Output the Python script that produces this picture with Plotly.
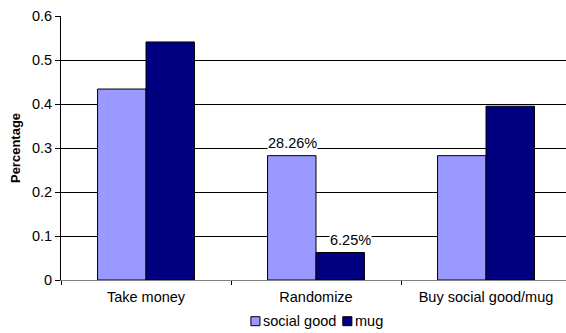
import plotly.graph_objects as go

categories = ["Take money", "Randomize", "Buy social good/mug"]
series_names = ["social good", "mug"]
social_good = [0.434, 0.2826, 0.2826]
mug = [0.541, 0.0625, 0.395]
colors = ["#9999FF", "#000080"]
label_idx = 1
y_ticks = [0, 0.1, 0.2, 0.3, 0.4, 0.5, 0.6]
y_tick_text = ["0", "0.1", "0.2", "0.3", "0.4", "0.5", "0.6"]

font = "Liberation Sans, Arial, sans-serif"
fs = 14.5

fig = go.Figure()
for name, vals, col in zip(series_names, [social_good, mug], colors):
    fig.add_trace(go.Bar(name=name, x=categories, y=vals, showlegend=False,
                         marker=dict(color=col, line=dict(color="black", width=1))))

fig.add_annotation(x=categories[label_idx], y=social_good[label_idx], text=f"{social_good[label_idx]*100:.2f}%",
                   xshift=-24, yshift=13, showarrow=False, bgcolor="white",
                   font=dict(size=fs, color="black", family=font), borderpad=0)
fig.add_annotation(x=categories[label_idx], y=mug[label_idx], text=f"{mug[label_idx]*100:.2f}%",
                   xshift=34, yshift=13, showarrow=False, bgcolor="white",
                   font=dict(size=fs, color="black", family=font), borderpad=0)

# custom compact legend (paper coords relative to plot area)
leg_items = [(0.376, 0.394, 0.399), (0.558, 0.576, 0.581)]
for (x0, x1, tx), name, col in zip(leg_items, series_names, colors):
    fig.add_shape(type="rect", xref="paper", yref="paper", x0=x0, x1=x1, y0=-0.173, y1=-0.139,
                  fillcolor=col, line=dict(color="black", width=1))
    fig.add_annotation(xref="paper", yref="paper", x=tx, y=-0.157, xanchor="left", yanchor="middle",
                       text=name, showarrow=False, font=dict(size=fs, color="black", family=font),
                       borderpad=0)

fig.update_layout(
    width=566, height=333,
    margin=dict(l=61, r=0, t=16, b=53),
    paper_bgcolor="white", plot_bgcolor="white",
    barmode="group", bargap=0.43, bargroupgap=0,
    font=dict(family=font, size=fs, color="black"),
    showlegend=False,
    xaxis=dict(range=[-0.5, 2.4706], showline=True, linecolor="#808080", linewidth=1,
               ticks="outside", tickson="boundaries", ticklen=4, tickcolor="black",
               showgrid=False, tickfont=dict(size=fs), ticklabelstandoff=4),
    yaxis=dict(range=[0, 0.6], tickvals=y_ticks, ticktext=y_tick_text,
               showline=True, linecolor="black", linewidth=1,
               ticks="outside", ticklen=5, tickcolor="black",
               showgrid=True, gridcolor="black", gridwidth=1, zeroline=False,
               title=dict(text="<b>Percentage</b>", font=dict(size=13), standoff=8),
               tickfont=dict(size=fs)),
)

fig.write_html("out.html")
